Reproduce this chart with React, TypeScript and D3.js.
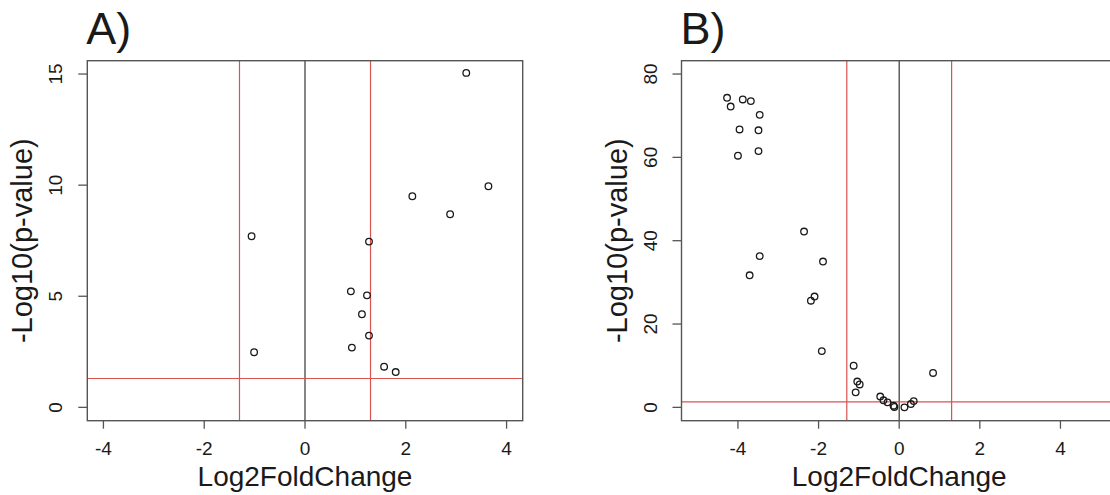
import React from 'react';
import * as d3 from 'd3';

// Panel A: log2 fold change / -log10(p-value)
const A_LOG2FC = [3.2, 3.64, 2.13, 2.88, -1.06, 1.27, 0.91, 1.23, 1.13, 1.27, 0.93, -1.01, 1.57, 1.8];
const A_NEGLOG10P = [15.05, 9.95, 9.5, 8.69, 7.7, 7.46, 5.22, 5.04, 4.19, 3.23, 2.69, 2.48, 1.83, 1.59];

// Panel B
const B_LOG2FC = [
  -4.27, -4.18, -3.88, -3.68, -3.46, -3.96, -3.49, -3.49, -4.0, -2.36, -3.46, -1.89, -3.71, -2.1, -2.19,
  -1.92, -1.13, 0.84, -1.04, -0.98, -1.08, -0.47, -0.39, -0.29, -0.14, -0.12, 0.13, 0.29, 0.36,
];
const B_NEGLOG10P = [
  74.3, 72.2, 73.9, 73.5, 70.2, 66.7, 66.5, 61.5, 60.4, 42.2, 36.3, 35.0, 31.7, 26.6, 25.6,
  13.5, 10.0, 8.26, 6.2, 5.5, 3.6, 2.6, 1.7, 1.2, 0.4, 0.1, 0.0, 0.8, 1.5,
];

const A_X_TICKS = [-4, -2, 0, 2, 4];
const A_Y_TICKS = [0, 5, 10, 15];
const B_X_TICKS = [-4, -2, 0, 2, 4];
const B_Y_TICKS = [0, 20, 40, 60, 80];

const FC_CUTOFF = 1.3;
const P_CUTOFF = 1.3;

const FONT = '"Liberation Sans", Arial, sans-serif';

type PanelProps = {
  id: string;
  title: string;
  left: number;
  xlim: [number, number];
  ylim: [number, number];
  xTicks: number[];
  yTicks: number[];
  xs: number[];
  ys: number[];
};

// R-style 4% axis padding
const pad = ([a, b]: [number, number]): [number, number] => {
  const d = (b - a) * 0.04;
  return [a - d, b + d];
};

function Panel({ id, title, left, xlim, ylim, xTicks, yTicks, xs, ys }: PanelProps) {
  const top = 60.7;
  const bottom = 420.7;
  const width = 435.4;
  const right = left + width;

  const x = d3.scaleLinear().domain(pad(xlim)).range([left, right]);
  const y = d3.scaleLinear().domain(pad(ylim)).range([bottom, top]);

  const points = xs.map((v, i) => ({ fc: v, p: ys[i] }));
  const midX = (left + right) / 2;
  const midY = (top + bottom) / 2;

  return (
    <g fontFamily={FONT} fill="#1a1a1a">
      <defs>
        <clipPath id={`clip-${id}`}>
          <rect x={left} y={top} width={width} height={bottom - top} />
        </clipPath>
      </defs>

      <text x={left - 1} y={44} fontSize={45}>{title}</text>

      {/* reference lines */}
      <g clipPath={`url(#clip-${id})`}>
        <line x1={x(0)} x2={x(0)} y1={top} y2={bottom} stroke="#444" strokeWidth={1.3} />
        <line x1={x(-FC_CUTOFF)} x2={x(-FC_CUTOFF)} y1={top} y2={bottom} stroke="#d9534f" strokeWidth={1.2} />
        <line x1={x(FC_CUTOFF)} x2={x(FC_CUTOFF)} y1={top} y2={bottom} stroke="#d9534f" strokeWidth={1.2} />
        <line x1={left} x2={right} y1={y(P_CUTOFF)} y2={y(P_CUTOFF)} stroke="#d9534f" strokeWidth={1.2} />
        {points.map((d, i) => (
          <circle key={i} cx={x(d.fc)} cy={y(d.p)} r={3.3} fill="none" stroke="#1a1a1a" strokeWidth={1.3} />
        ))}
      </g>

      <rect x={left} y={top} width={width} height={bottom - top} fill="none" stroke="#555" strokeWidth={1.4} />

      {/* x axis */}
      {xTicks.map(t => (
        <g key={`x${t}`}>
          <line x1={x(t)} x2={x(t)} y1={bottom} y2={bottom + 8} stroke="#555" strokeWidth={1.3} />
          <text x={x(t)} y={455} fontSize={19} textAnchor="middle">{t}</text>
        </g>
      ))}
      <text x={midX} y={486} fontSize={28} textAnchor="middle">Log2FoldChange</text>

      {/* y axis */}
      {yTicks.map(t => (
        <g key={`y${t}`}>
          <line x1={left - 9} x2={left} y1={y(t)} y2={y(t)} stroke="#555" strokeWidth={1.3} />
          <text transform={`translate(${left - 25},${y(t)}) rotate(-90)`} fontSize={19} textAnchor="middle">{t}</text>
        </g>
      ))}
      <text transform={`translate(${left - 55},${midY}) rotate(-90)`} fontSize={29} textAnchor="middle">
        -Log10(p-value)
      </text>
    </g>
  );
}

export default function App() {
  return (
    <svg
      width={1110}
      height={495}
      style={{ position: 'absolute', left: 0, top: 0, background: '#fff' }}
    >
      <Panel id="a" title="A)" left={87.3} xlim={[-4, 4]} ylim={[0, 15]}
        xTicks={A_X_TICKS} yTicks={A_Y_TICKS} xs={A_LOG2FC} ys={A_NEGLOG10P} />
      <Panel id="b" title="B)" left={681.5} xlim={[-5, 5]} ylim={[0, 80]}
        xTicks={B_X_TICKS} yTicks={B_Y_TICKS} xs={B_LOG2FC} ys={B_NEGLOG10P} />
    </svg>
  );
}
